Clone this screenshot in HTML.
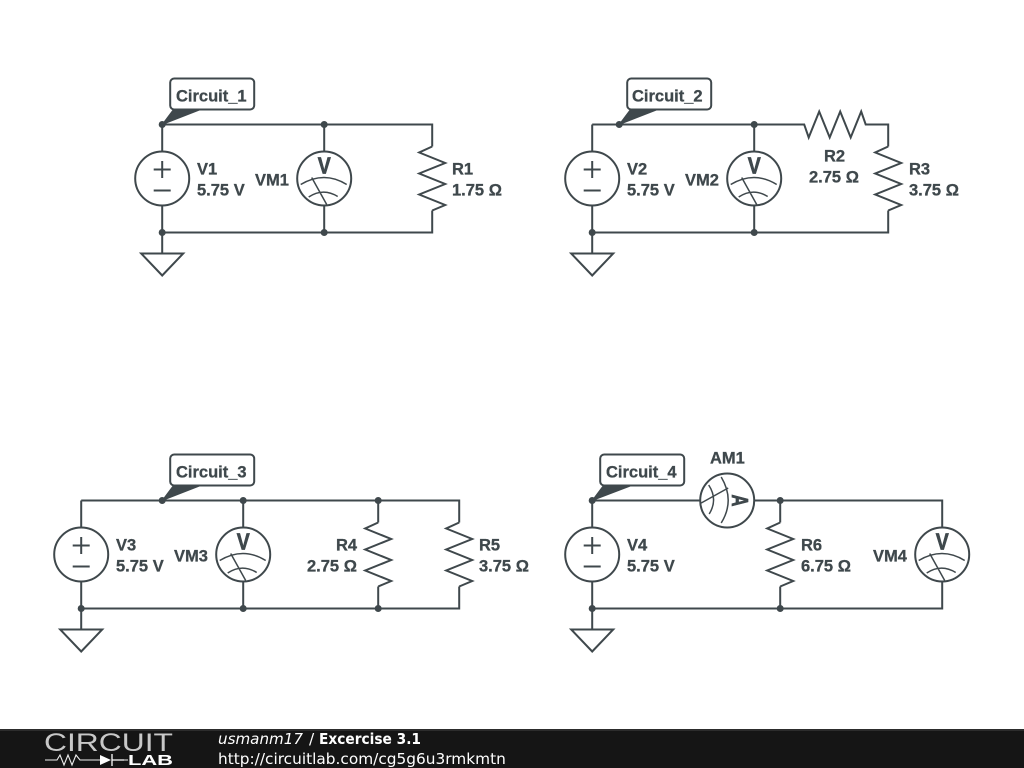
<!DOCTYPE html>
<html>
<head>
<meta charset="utf-8">
<style>
html,body{margin:0;padding:0;background:#fff;width:1024px;height:768px;overflow:hidden}
svg{display:block}
.w{fill:none;stroke:#3f484c;stroke-width:2;stroke-linejoin:miter}
.c{fill:#fff;stroke:#3f484c;stroke-width:2}
.l{fill:none;stroke:#3f484c;stroke-width:1.500}
.t{font-family:"Liberation Sans",sans-serif;font-weight:bold;font-size:16.5px;fill:#3f484c;stroke:#3f484c;stroke-width:0.3;transform:translate(0,-0.4px)}
.g{font-family:"Liberation Sans",sans-serif;font-weight:bold;font-size:23px;fill:#3f484c;stroke:#3f484c;stroke-width:0.7}
.f{font-family:"DejaVu Sans",sans-serif;font-size:15.350px;fill:#fff}
</style>
</head>
<body>
<svg width="1024" height="768" viewBox="0 0 1024 768" xmlns="http://www.w3.org/2000/svg">
<defs>
<g id="src"><circle r="27" class="c"/><path class="w" d="M-8.500-9H8.500M0-17.500V-0.500M-8.500 12H8.500"/></g>
<g id="mtr"><circle r="27" class="c"/><path class="l" d="M-23.500 6Q0-8 22.500 6M-15.500 18.500Q-1 9 13.500 18M-12.500-1L2.500 26"/><text class="g" x="-6.500" y="-5" textLength="13" lengthAdjust="spacingAndGlyphs">V</text></g>
<g id="mta"><circle r="27" class="c"/><g transform="rotate(90)"><path class="l" d="M-23.500 6Q0-8 22.500 6M-15.500 18.500Q-1 9 13.500 18M-12.500-1L2.500 26"/><text class="g" x="-6" y="-5" textLength="12" lengthAdjust="spacingAndGlyphs">A</text></g></g>
<polyline id="rv" class="w" points="0,-32 -13,-26 13,-15.500 -13,-5 13,5.500 -13,16 13,26.500 0,32"/>
<path id="gnd" class="w" d="M0 0V21M-21 21H21L0 43Z"/>
<circle id="dot" r="3.500" fill="#3f484c"/>
</defs>

<g transform="translate(0.200,0.500)">
<!-- Circuit 1 -->
<path class="w" d="M162 124H432V146M432 210V232H162M162 124V232M324 124V232"/>
<use href="#src" x="162" y="178"/><use href="#mtr" x="324" y="178"/><use href="#rv" x="432" y="178"/><use href="#gnd" x="162" y="232"/>
<use href="#dot" x="162" y="124"/><use href="#dot" x="324" y="124"/><use href="#dot" x="162" y="232"/><use href="#dot" x="324" y="232"/>
<path d="M162 124L174 108H203Z" fill="#3f484c" stroke="#3f484c"/>
<rect x="170" y="78" width="84" height="31" rx="4" fill="#fff" stroke="#3f484c" stroke-width="2"/>

<!-- Circuit 2 -->
<path class="w" d="M592 124H804L808.500 137L819 111L829.500 137L840 111L850.500 137L861 111L865.500 124H888V146M888 210V232H592M592 124V232M754 124V232"/>
<use href="#src" x="592" y="178"/><use href="#mtr" x="754" y="178"/><use href="#rv" x="888" y="178"/><use href="#gnd" x="592" y="232"/>
<use href="#dot" x="619" y="124"/><use href="#dot" x="754" y="124"/><use href="#dot" x="592" y="232"/><use href="#dot" x="754" y="232"/>
<path d="M619 124L631 108H660Z" fill="#3f484c" stroke="#3f484c"/>
<rect x="627" y="78" width="84" height="31" rx="4" fill="#fff" stroke="#3f484c" stroke-width="2"/>

<!-- Circuit 3 -->
<path class="w" d="M81 500H459V522M459 586V608H81M81 500V608M243 500V608M378 500V522M378 586V608"/>
<use href="#src" x="81" y="554"/><use href="#mtr" x="243" y="554"/><use href="#rv" x="378" y="554"/><use href="#rv" x="459" y="554"/><use href="#gnd" x="81" y="608"/>
<use href="#dot" x="162" y="500"/><use href="#dot" x="243" y="500"/><use href="#dot" x="378" y="500"/><use href="#dot" x="81" y="608"/><use href="#dot" x="243" y="608"/><use href="#dot" x="378" y="608"/>
<path d="M162 500L174 484H203Z" fill="#3f484c" stroke="#3f484c"/>
<rect x="170" y="454" width="84" height="31" rx="4" fill="#fff" stroke="#3f484c" stroke-width="2"/>

<!-- Circuit 4 -->
<path class="w" d="M592 500H942V608H592V500M780 500V522M780 586V608"/>
<use href="#src" x="592" y="554"/><use href="#mtr" x="942" y="554"/><use href="#rv" x="780" y="554"/><use href="#mta" x="727" y="500"/><use href="#gnd" x="592" y="608"/>
<use href="#dot" x="592" y="500"/><use href="#dot" x="780" y="500"/><use href="#dot" x="592" y="608"/><use href="#dot" x="780" y="608"/>
<path d="M592 500L604 484H634Z" fill="#3f484c" stroke="#3f484c"/>
<rect x="600" y="454" width="84" height="31" rx="4" fill="#fff" stroke="#3f484c" stroke-width="2"/>
</g>

<text class="t" x="176" y="102">Circuit_1</text>
<text class="t" x="197" y="175">V1</text><text class="t" x="197" y="196">5.75 V</text>
<text class="t" x="255" y="186">VM1</text>
<text class="t" x="452" y="175">R1</text><text class="t" x="452" y="196">1.75 Ω</text>

<text class="t" x="632" y="102">Circuit_2</text>
<text class="t" x="627" y="175">V2</text><text class="t" x="627" y="196">5.75 V</text>
<text class="t" x="685" y="186">VM2</text>
<text class="t" x="824" y="162">R2</text><text class="t" x="809" y="183">2.75 Ω</text>
<text class="t" x="909" y="175">R3</text><text class="t" x="909" y="196">3.75 Ω</text>

<text class="t" x="176" y="478">Circuit_3</text>
<text class="t" x="116" y="551">V3</text><text class="t" x="116" y="572">5.75 V</text>
<text class="t" x="174" y="562">VM3</text>
<text class="t" x="336" y="551">R4</text><text class="t" x="307" y="572">2.75 Ω</text>
<text class="t" x="479" y="551">R5</text><text class="t" x="479" y="572">3.75 Ω</text>

<text class="t" x="606" y="478">Circuit_4</text>
<text class="t" x="710" y="464">AM1</text>
<text class="t" x="627" y="551">V4</text><text class="t" x="627" y="572">5.75 V</text>
<text class="t" x="801" y="551">R6</text><text class="t" x="801" y="572">6.75 Ω</text>
<text class="t" x="873" y="562">VM4</text>

<!-- Footer -->
<rect x="0" y="729" width="1024" height="39" fill="#151515"/>
<rect x="0" y="729" width="1024" height="2" fill="#2c2c2c"/>
<text x="44" y="751" font-family="Liberation Sans,sans-serif" font-size="25" textLength="129" lengthAdjust="spacingAndGlyphs" fill="#c8c8c8">CIRCUIT</text>
<path d="M45 760H57L60 755L64 765L68 755L72 765L76 755L80 760H100M123 760H128" fill="none" stroke="#eee" stroke-width="1.100"/>
<path d="M100 755L111 760L100 765Z" fill="#fff"/><path d="M112 754V766M112 760H124" stroke="#fff" stroke-width="1.300"/>
<text x="128" y="765" font-family="Liberation Sans,sans-serif" font-weight="bold" font-size="15" textLength="45" lengthAdjust="spacingAndGlyphs" fill="#fff">LAB</text>
<text class="f" x="218" y="744" font-style="italic" textLength="85" lengthAdjust="spacingAndGlyphs">usmanm17</text>
<text class="f" x="309" y="744">/</text>
<text class="f" x="319" y="744" font-weight="bold" textLength="102" lengthAdjust="spacingAndGlyphs">Excercise 3.1</text>
<text class="f" x="218" y="764">http://circuitlab.com/cg5g6u3rmkmtn</text>
</svg>
</body>
</html>
